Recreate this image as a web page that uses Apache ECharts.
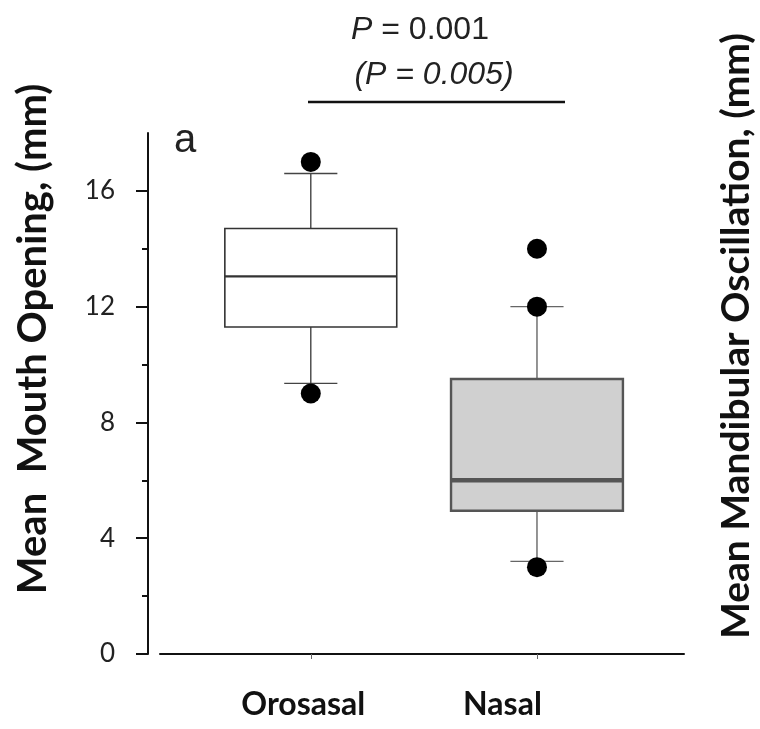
<!DOCTYPE html>
<html><head><meta charset="utf-8">
<script src="https://cdn.jsdelivr.net/npm/echarts@6/dist/echarts.min.js"></script>
<style>html,body{margin:0;padding:0;background:#fff}#c{width:760px;height:729px}</style>
</head><body><div id="c"></div>
<script>
// ---- data ----
const categories = ['Orosasal', 'Nasal'];
// [lower whisker, Q1, median, Q3, upper whisker]
const orosasalBox = [9.35, 11.3, 13.05, 14.7, 16.6];
const nasalBox = [3.2, 4.95, 6.0, 9.5, 12.0];
const orosasalOutliers = [17.0, 9.0];
const nasalOutliers = [14.0, 12.0, 3.0];
const yTickValues = [0, 4, 8, 12, 16];
const yMinorTickValues = [2, 6, 10, 14];
const pMain = 'P = 0.001';
const pSub = '(P = 0.005)';
const panelLabel = 'a';
const leftTitle = 'Mean  Mouth Opening, (mm)';
const rightTitle = 'Mean Mandibular Oscillation, (mm)';

// ---- styles ----
const boxStyles = [
  { fill: '#ffffff', border: '#333333', borderWidth: 1.6, median: '#333333', medianWidth: 2.2, whisker: '#444444' },
  { fill: '#d0d0d0', border: '#555555', borderWidth: 2.4, median: '#555555', medianWidth: 4.5, whisker: '#666666' }
];
const boxWidthUnits = 0.76;
const capWidthUnits = 0.235;

const boxData = [orosasalBox, nasalBox].map((v, i) => [i].concat(v));
const outlierData = [];
orosasalOutliers.forEach(v => outlierData.push([0, v]));
nasalOutliers.forEach(v => outlierData.push([1, v]));

function renderBox(params, api) {
  const i = api.value(0);
  const lo = api.coord([i, api.value(1)]);
  const q1 = api.coord([i, api.value(2)]);
  const med = api.coord([i, api.value(3)]);
  const q3 = api.coord([i, api.value(4)]);
  const hi = api.coord([i, api.value(5)]);
  const bw = api.size([boxWidthUnits, 0])[0];
  const cw = api.size([capWidthUnits, 0])[0];
  const st = boxStyles[i];
  const x = lo[0];
  const ws = { stroke: st.whisker, lineWidth: 1.4 };
  return {
    type: 'group',
    children: [
      { type: 'line', shape: { x1: x, y1: q3[1], x2: x, y2: hi[1] }, style: ws },
      { type: 'line', shape: { x1: x, y1: q1[1], x2: x, y2: lo[1] }, style: ws },
      { type: 'line', shape: { x1: x - cw / 2, y1: hi[1], x2: x + cw / 2, y2: hi[1] }, style: ws },
      { type: 'line', shape: { x1: x - cw / 2, y1: lo[1], x2: x + cw / 2, y2: lo[1] }, style: ws },
      { type: 'rect', shape: { x: x - bw / 2, y: q3[1], width: bw, height: q1[1] - q3[1] },
        style: { fill: st.fill, stroke: st.border, lineWidth: st.borderWidth } },
      { type: 'line', shape: { x1: x - bw / 2, y1: med[1], x2: x + bw / 2, y2: med[1] },
        style: { stroke: st.median, lineWidth: st.medianWidth } }
    ]
  };
}

const chart = echarts.init(document.getElementById('c'));
chart.setOption({
  backgroundColor: '#ffffff',
  animation: false,
  grid: { left: 160, right: 76, top: 133, bottom: 75, outerBoundsMode: 'none', containLabel: false },
  xAxis: {
    type: 'value', min: -2 / 3, max: 1.65,
    splitLine: { show: false },
    axisLine: { show: true, onZero: false, lineStyle: { color: '#111', width: 2 } },
    axisTick: { show: true, customValues: [0, 1], length: 5, lineStyle: { color: '#666', width: 1 } },
    axisLabel: {
      show: true, customValues: [0, 1], margin: 35,
      formatter: v => '{c' + Math.round(v) + '|' + categories[Math.round(v)] + '}',
      rich: {
        c0: { fontFamily: 'Lato', fontWeight: 'bold', fontSize: 32, color: '#111', padding: [0, 15, 0, 0] },
        c1: { fontFamily: 'Lato', fontWeight: 'bold', fontSize: 32, color: '#111', padding: [0, 69, 0, 0] }
      }
    }
  },
  yAxis: [{
    type: 'value', min: 0, max: 18, position: 'left', offset: 12,
    splitLine: { show: false },
    axisLine: { show: true, onZero: false, lineStyle: { color: '#111', width: 2 } },
    axisTick: { show: true, customValues: yTickValues, length: 12, lineStyle: { color: '#111', width: 2 } },
    axisLabel: { show: true, customValues: yTickValues, margin: 33, fontFamily: 'Lato', fontSize: 26, color: '#222' }
  }, {
    type: 'value', min: 0, max: 18, position: 'left', offset: 12,
    splitLine: { show: false },
    axisLine: { show: false, onZero: false },
    axisTick: { show: true, customValues: yMinorTickValues, length: 6, lineStyle: { color: '#111', width: 2 } },
    axisLabel: { show: false }
  }],
  series: [{
    type: 'custom', renderItem: renderBox, data: boxData, yAxisIndex: 0,
    encode: { x: 0, y: [1, 2, 3, 4, 5] }, z: 2
  }, {
    type: 'scatter', data: outlierData, yAxisIndex: 0, symbol: 'circle', symbolSize: 20,
    itemStyle: { color: '#000', opacity: 1 }, z: 3
  }],
  graphic: [
    { type: 'text', x: 33, y: 339, rotation: Math.PI / 2,
      style: { text: leftTitle, fontFamily: 'Lato', fontWeight: 'bold', fontSize: 40, fill: '#111', align: 'center', verticalAlign: 'middle' } },
    { type: 'text', x: 736, y: 336, rotation: Math.PI / 2,
      style: { text: rightTitle, fontFamily: 'Lato', fontWeight: 'bold', fontSize: 39, fill: '#111', align: 'center', verticalAlign: 'middle' } },
    { type: 'text', x: 174, y: 141,
      style: { text: panelLabel, fontFamily: 'Liberation Sans', fontSize: 40, fill: '#222', align: 'left', verticalAlign: 'middle' } },
    { type: 'text', x: 420, y: 30,
      style: { text: '{i|P}' + pMain.slice(1), fontFamily: 'Liberation Sans', fontSize: 32, fill: '#222', align: 'center', verticalAlign: 'middle',
        rich: { i: { fontFamily: 'Liberation Sans', fontStyle: 'italic', fontSize: 32, fill: '#222' } } } },
    { type: 'text', x: 434, y: 75,
      style: { text: pSub, fontFamily: 'Liberation Sans', fontStyle: 'italic', fontSize: 32, fill: '#222', align: 'center', verticalAlign: 'middle' } },
    { type: 'line', shape: { x1: 308, y1: 102, x2: 565, y2: 102 }, style: { stroke: '#111', lineWidth: 2.5 } }
  ]
});
</script>
</body></html>
